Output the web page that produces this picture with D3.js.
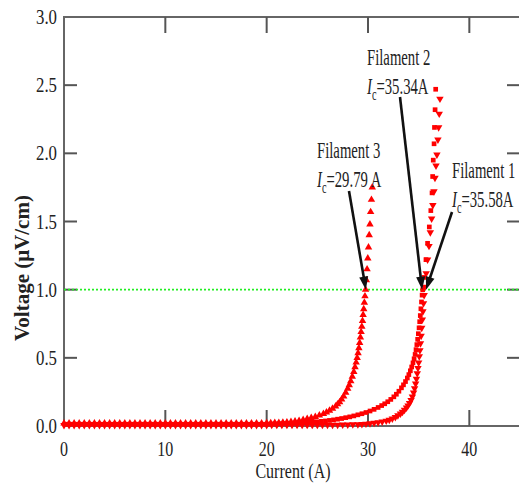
<!DOCTYPE html>
<html><head><meta charset="utf-8">
<script src="https://cdn.jsdelivr.net/npm/d3@7"></script>
<style>html,body{margin:0;padding:0;background:#fff;overflow:hidden}</style>
</head><body>
<svg id="chart" width="519" height="484"></svg>
<script>
// ---------- data ----------
const xTicks = [0, 10, 20, 30, 40];
const yTicks = [0.0, 0.5, 1.0, 1.5, 2.0, 2.5, 3.0];
const xDomain = [0, 45];
const yDomain = [0, 3];
const criterionV = 1.0;
const xTitle = "Current (A)";
const yTitle = "Voltage (\u03bcV/cm)";
const seriesNames = ["Filament 1", "Filament 2", "Filament 3"];
const seriesIc = [35.58, 35.34, 29.79];
const seriesIcText = ["=35.58A", "=35.34A", "=29.79 A"];

// Filament 1 (inverted triangles): [current A, voltage uV/cm]
const filament1 = [
[0,0.006],[0.5,0.006],[1,0.006],[1.5,0.006],[2,0.006],[2.5,0.006],[3,0.006],[3.5,0.006],[4,0.006],[4.5,0.006],
[5,0.006],[5.5,0.006],[6,0.006],[6.5,0.006],[7,0.006],[7.5,0.006],[8,0.006],[8.5,0.006],[9,0.006],[9.5,0.006],
[10,0.006],[10.5,0.006],[11,0.006],[11.5,0.006],[12,0.006],[12.5,0.006],[13,0.006],[13.5,0.006],[14,0.006],[14.5,0.006],
[15,0.006],[15.5,0.006],[16,0.006],[16.5,0.006],[17,0.006],[17.5,0.006],[18,0.006],[18.5,0.006],[19,0.006],[19.5,0.006],
[20,0.006],[20.5,0.007],[21,0.007],[21.5,0.007],[22,0.007],[22.5,0.007],[23,0.007],[23.5,0.007],[24,0.007],[24.5,0.007],
[25,0.007],[25.5,0.008],[26,0.008],[26.5,0.008],[27,0.008],[27.5,0.01],[28,0.01],[28.5,0.011],[29,0.012],
[29.4,0.014],[29.8,0.016],[30.2,0.019],[30.6,0.022],[31.0,0.026],[31.4,0.031],[31.8,0.038],[32.1,0.045],[32.4,0.054],
[32.7,0.065],[32.95,0.077],[33.2,0.09],[33.4,0.103],[33.6,0.118],[33.8,0.135],[33.95,0.15],[34.1,0.168],[34.25,0.19],
[34.38,0.215],[34.5,0.245],[34.6,0.275],[34.7,0.31],[34.78,0.345],[34.86,0.385],[34.93,0.425],[35.0,0.465],[35.06,0.51],
[35.12,0.555],[35.18,0.605],[35.24,0.66],[35.3,0.72],[35.36,0.78],[35.42,0.84],[35.48,0.9],[35.54,0.96],[35.6,1.02],
[35.74,1.12],[35.88,1.22],[36.02,1.32],[36.15,1.42],[36.28,1.52],[36.4,1.62],[36.51,1.72],[36.61,1.82],[36.71,1.91],
[36.8,1.99],[36.9,2.1],[36.97,2.19],[37.03,2.29],[37.1,2.4]
];

// Filament 2 (squares)
const filament2 = [
[0.25,0.013],[0.75,0.013],[1.25,0.013],[1.75,0.013],[2.25,0.013],[2.75,0.013],[3.25,0.013],[3.75,0.013],[4.25,0.013],[4.75,0.013],
[5.25,0.013],[5.75,0.013],[6.25,0.013],[6.75,0.013],[7.25,0.013],[7.75,0.013],[8.25,0.013],[8.75,0.013],[9.25,0.013],[9.75,0.013],
[10.25,0.013],[10.75,0.013],[11.25,0.013],[11.75,0.013],[12.25,0.013],[12.75,0.013],[13.25,0.013],[13.75,0.013],[14.25,0.013],[14.75,0.013],
[15.25,0.013],[15.75,0.013],[16.25,0.013],[16.75,0.013],[17.25,0.013],[17.75,0.013],[18.25,0.013],[18.75,0.013],[19.25,0.013],[19.75,0.013],
[20.2,0.014],[20.6,0.015],[21.0,0.016],[21.4,0.017],[21.8,0.018],[22.2,0.019],[22.6,0.02],[23.0,0.021],[23.4,0.023],[23.8,0.025],
[24.2,0.027],[24.6,0.029],[25.0,0.031],[25.4,0.034],[25.8,0.037],[26.2,0.041],[26.6,0.045],[27.0,0.05],[27.4,0.055],[27.8,0.061],
[28.2,0.067],[28.6,0.074],[29.0,0.082],[29.4,0.09],[29.8,0.099],[30.2,0.11],[30.6,0.122],[31.0,0.136],[31.35,0.15],[31.65,0.163],
[31.95,0.178],[32.25,0.195],[32.55,0.214],[32.8,0.233],[33.05,0.255],[33.3,0.28],[33.5,0.302],[33.7,0.326],[33.88,0.352],[34.03,0.377],
[34.18,0.405],[34.31,0.433],[34.44,0.463],[34.55,0.493],[34.65,0.525],[34.74,0.56],[34.82,0.597],[34.9,0.636],[34.97,0.677],[35.04,0.72],
[35.1,0.765],[35.16,0.81],[35.22,0.86],[35.28,0.91],[35.34,0.96],[35.4,1.0],[35.55,1.09],[35.72,1.22],[35.88,1.34],[36.05,1.46],
[36.2,1.58],[36.32,1.71],[36.38,1.83],[36.44,1.95],[36.52,2.07],[36.56,2.19],[36.62,2.32],[36.68,2.47]
];

// Filament 3 (triangles)
const filament3 = [
[0,0.02],[0.5,0.02],[1,0.02],[1.5,0.02],[2,0.02],[2.5,0.02],[3,0.02],[3.5,0.02],[4,0.02],[4.5,0.02],
[5,0.02],[5.5,0.02],[6,0.02],[6.5,0.02],[7,0.02],[7.5,0.02],[8,0.02],[8.5,0.02],[9,0.02],[9.5,0.02],
[10,0.02],[10.5,0.02],[11,0.02],[11.5,0.02],[12,0.02],[12.5,0.02],[13,0.02],[13.5,0.02],[14,0.02],[14.5,0.02],
[15,0.02],[15.5,0.02],[16,0.02],[16.5,0.02],[17,0.02],[17.5,0.02],[18,0.02],[18.5,0.02],[19,0.02],[19.5,0.02],
[20,0.021],[20.4,0.022],[20.8,0.023],[21.2,0.024],[21.6,0.026],[22.0,0.028],[22.4,0.031],[22.8,0.034],[23.2,0.039],[23.6,0.045],
[24.0,0.052],[24.4,0.06],[24.8,0.068],[25.2,0.078],[25.6,0.09],[25.9,0.1],[26.2,0.113],[26.5,0.128],[26.8,0.145],[27.0,0.16],
[27.2,0.176],[27.4,0.195],[27.6,0.218],[27.8,0.245],[28.0,0.275],[28.15,0.3],[28.3,0.33],[28.45,0.362],[28.6,0.397],[28.72,0.432],
[28.83,0.466],[28.93,0.5],[29.02,0.535],[29.1,0.572],[29.18,0.61],[29.25,0.65],[29.32,0.69],[29.39,0.73],[29.46,0.772],[29.52,0.815],
[29.58,0.858],[29.64,0.905],[29.7,0.952],[29.76,1.0],[29.84,1.07],[29.91,1.15],[29.98,1.23],[30.05,1.31],[30.12,1.4],[30.19,1.48],
[30.26,1.57],[30.34,1.66],[30.42,1.75]
];

// ---------- drawing ----------
const svg = d3.select("#chart");
const X0 = 64, X1 = 520, Y0 = 426, Y1 = 17;
const x = d3.scaleLinear().domain(xDomain).range([X0, X1]);
const y = d3.scaleLinear().domain(yDomain).range([Y0, Y1]);
const serif = "'Liberation Serif','Times New Roman',serif";
const axisCol = "#666";

// frame
svg.append("rect").attr("x", X0).attr("y", Y1).attr("width", X1 - X0).attr("height", Y0 - Y1)
  .attr("fill", "none").attr("stroke", axisCol).attr("stroke-width", 2);

// ticks
const tickG = svg.append("g").attr("stroke", "#555").attr("stroke-width", 2);
xTicks.filter(t => t > xDomain[0]).forEach(t => {
  tickG.append("line").attr("x1", x(t)).attr("x2", x(t)).attr("y1", Y0).attr("y2", Y0 - 16);
  tickG.append("line").attr("x1", x(t)).attr("x2", x(t)).attr("y1", Y1).attr("y2", Y1 + 16);
});
yTicks.filter(t => t > yDomain[0] && t < yDomain[1]).forEach(t => {
  tickG.append("line").attr("x1", X0).attr("x2", X0 + 13).attr("y1", y(t)).attr("y2", y(t));
  tickG.append("line").attr("x1", X1).attr("x2", X1 - 13).attr("y1", y(t)).attr("y2", y(t));
});

// tick labels (horizontally condensed serif, as in the source)
xTicks.forEach(t => {
  svg.append("text").attr("transform", `translate(${x(t)},456) scale(0.8,1)`)
    .attr("text-anchor", "middle").attr("font-family", serif).attr("font-size", 20)
    .attr("fill", "#222").text(d3.format("d")(t));
});
yTicks.forEach(t => {
  svg.append("text").attr("transform", `translate(57,${y(t) + 7}) scale(0.8,1)`)
    .attr("text-anchor", "end").attr("font-family", serif).attr("font-size", 21)
    .attr("fill", "#222").text(d3.format(".1f")(t));
});

// axis titles
svg.append("text").attr("transform", `translate(293,478) scale(0.8,1)`)
  .attr("text-anchor", "middle").attr("font-family", serif).attr("font-size", 20)
  .attr("fill", "#222").text(xTitle);
svg.append("text").attr("transform", `translate(29,268) rotate(-90)`)
  .attr("text-anchor", "middle").attr("font-family", serif).attr("font-size", 21)
  .attr("font-weight", "bold").attr("fill", "#222").text(yTitle);

// criterion line
svg.append("line").attr("x1", X0).attr("x2", X1).attr("y1", y(criterionV)).attr("y2", y(criterionV))
  .attr("stroke", "#22ee22").attr("stroke-width", 1.6).attr("stroke-dasharray", "2,2");

// series markers
const symbolSets = [
  { data: filament1, sym: d3.symbol().type(d3.symbolTriangle).size(24), rot: 180 },
  { data: filament2, sym: d3.symbol().type(d3.symbolSquare).size(22), rot: 0 },
  { data: filament3, sym: d3.symbol().type(d3.symbolTriangle).size(24), rot: 0 }
];
symbolSets.forEach(s => {
  svg.append("g").selectAll("path").data(s.data).join("path")
    .attr("d", s.sym())
    .attr("transform", d => `translate(${x(d[0])},${y(d[1])}) rotate(${s.rot})`)
    .attr("fill", "#ff0000");
});

// annotations
const tails = [[452, 212], [400, 97], [349, 191]];
const labelPos = [[452, 178], [367, 65], [317, 158]];
function arrow(x1, y1, x2, y2) {
  const dx = x2 - x1, dy = y2 - y1, L = Math.hypot(dx, dy);
  const ux = dx / L, uy = dy / L, hl = 13, hw = 4.5;
  const bx = x2 - ux * hl, by = y2 - uy * hl;
  svg.append("line").attr("x1", x1).attr("y1", y1).attr("x2", bx + ux * 2).attr("y2", by + uy * 2)
    .attr("stroke", "#111").attr("stroke-width", 2.6);
  svg.append("path").attr("d", `M${x2},${y2}L${bx - uy * hw},${by + ux * hw}L${bx + uy * hw},${by - ux * hw}Z`)
    .attr("fill", "#111");
}
seriesNames.forEach((name, i) => {
  const [lx, ly] = labelPos[i];
  svg.append("text").attr("transform", `translate(${lx},${ly}) scale(0.64,1)`)
    .attr("font-family", serif).attr("font-size", 23).attr("fill", "#222").text(name);
  const t = svg.append("text").attr("transform", `translate(${lx},${ly + 29}) scale(0.64,1)`)
    .attr("font-family", serif).attr("font-size", 23).attr("fill", "#222");
  t.append("tspan").attr("font-style", "italic").text("I");
  t.append("tspan").attr("dy", 6).attr("font-size", 16).text("c");
  t.append("tspan").attr("dy", -6).text(seriesIcText[i]);
  arrow(tails[i][0], tails[i][1], x(seriesIc[i]) + (i === 0 ? 1.5 : 0), y(criterionV));
});
</script>
</body></html>
